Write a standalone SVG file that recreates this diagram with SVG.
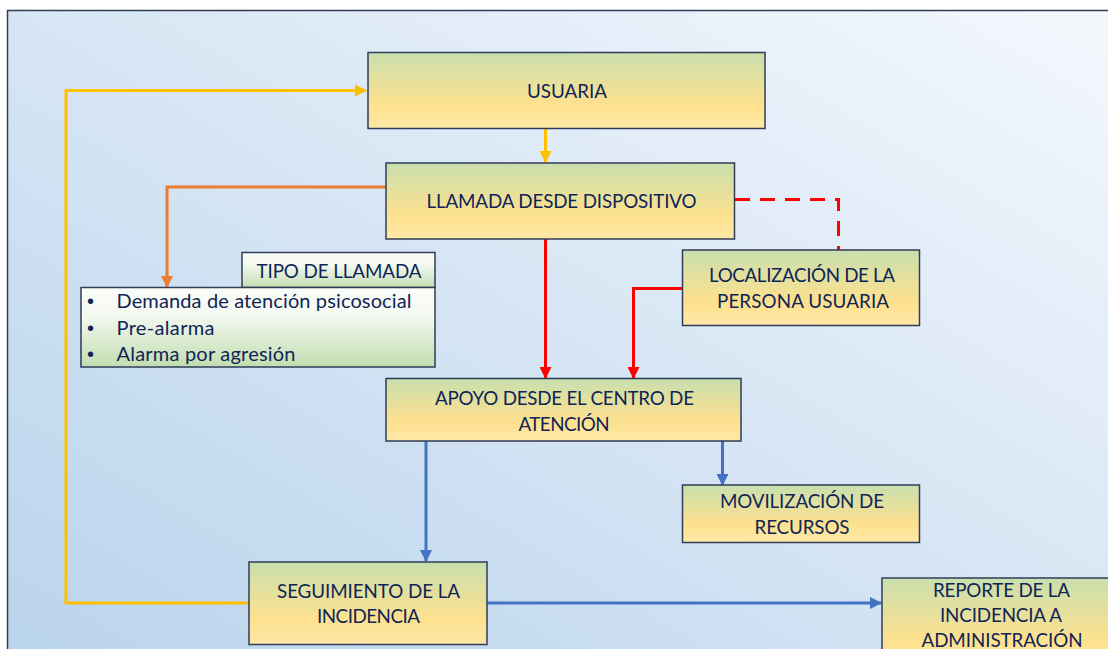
<svg xmlns="http://www.w3.org/2000/svg" width="1108" height="649" viewBox="0 0 1108 649">
<defs>
<linearGradient id="bg" x1="1" y1="0" x2="0" y2="1">
<stop offset="0" stop-color="#f4f8fd"/>
<stop offset="1" stop-color="#b9d3ec"/>
</linearGradient>
<linearGradient id="node" x1="0" y1="0" x2="0" y2="1">
<stop offset="0" stop-color="#c9dfae"/>
<stop offset="0.7" stop-color="#fee18e"/>
<stop offset="1" stop-color="#fee8a8"/>
</linearGradient>
<linearGradient id="green" x1="0" y1="0" x2="0" y2="1">
<stop offset="0" stop-color="#fbfdf9"/>
<stop offset="0.35" stop-color="#f4f9f0"/>
<stop offset="1" stop-color="#c2ddb0"/>
</linearGradient>
<marker id="aY" markerUnits="userSpaceOnUse" markerWidth="12" markerHeight="12" refX="11" refY="6" orient="auto"><path d="M0,0 L12,6 L0,12 z" fill="#ffc000"/></marker>
<marker id="aO" markerUnits="userSpaceOnUse" markerWidth="12" markerHeight="12" refX="11" refY="6" orient="auto"><path d="M0,0 L12,6 L0,12 z" fill="#ed7d31"/></marker>
<marker id="aR" markerUnits="userSpaceOnUse" markerWidth="12" markerHeight="12" refX="11" refY="6" orient="auto"><path d="M0,0 L12,6 L0,12 z" fill="#ff0000"/></marker>
<marker id="aB" markerUnits="userSpaceOnUse" markerWidth="12" markerHeight="12" refX="11" refY="6" orient="auto"><path d="M0,0 L12,6 L0,12 z" fill="#4472c4"/></marker>
</defs>
<style>
.box{fill:url(#node);stroke:#2f3d58;stroke-width:1.5}
.gbox{fill:url(#green);stroke:#2f3d58;stroke-width:1.5}
.t{font-family:Lato,"Open Sans","Liberation Sans",sans-serif;font-size:18.8px;fill:#0f2557;text-anchor:middle}
.tl{font-family:Lato,"Open Sans","Liberation Sans",sans-serif;font-size:20px;fill:#0f2557}
.b{font-family:"Liberation Sans",sans-serif;font-size:20px;fill:#0f2557}
.c{fill:none;stroke-width:3}
</style>
<rect x="0" y="0" width="1108" height="649" fill="#ffffff"/>
<rect x="7.5" y="10.5" width="1110" height="650" fill="url(#bg)" stroke="#2f3d58" stroke-width="1.5"/>

<g id="connectors">
<path class="c" stroke="#ffc000" d="M249,603 H66 V90.5 H366" marker-end="url(#aY)"/>
<path class="c" stroke="#ffc000" d="M545.5,128 V162" marker-end="url(#aY)"/>
<path class="c" stroke="#ed7d31" d="M386,187 H167 V287" marker-end="url(#aO)"/>
<path class="c" stroke="#ff0000" stroke-dasharray="15,10" d="M735,199.5 H838.5 V250"/>
<path class="c" stroke="#ff0000" d="M545.5,239 V378" marker-end="url(#aR)"/>
<path class="c" stroke="#ff0000" d="M682,288.5 H633.5 V378" marker-end="url(#aR)"/>
<path class="c" stroke="#4472c4" d="M426,441 V561" marker-end="url(#aB)"/>
<path class="c" stroke="#4472c4" d="M722.5,441 V485" marker-end="url(#aB)"/>
<path class="c" stroke="#4472c4" d="M487,603 H881" marker-end="url(#aB)"/>
</g>

<g id="usuaria">
<rect class="box" x="368" y="52.5" width="397" height="76"/>
<text class="t" x="567" y="98" textLength="80">USUARIA</text>
</g>
<g id="llamada">
<rect class="box" x="386" y="163" width="348.5" height="76"/>
<text class="t" x="561.5" y="208" textLength="270">LLAMADA DESDE DISPOSITIVO</text>
</g>
<g id="tipo">
<rect class="gbox" x="242" y="252.5" width="193" height="35"/>
<text class="t" x="339" y="277.5" textLength="165">TIPO DE LLAMADA</text>
</g>
<g id="lista">
<rect class="gbox" x="81" y="287.5" width="354" height="79.5"/>
<text class="b" x="87" y="308">•</text>
<text class="tl" x="116.5" y="308" textLength="295">Demanda de atención psicosocial</text>
<text class="b" x="87" y="334.5">•</text>
<text class="tl" x="116.5" y="334.5" textLength="98">Pre-alarma</text>
<text class="b" x="87" y="360.5">•</text>
<text class="tl" x="116.5" y="360.5" textLength="179">Alarma por agresión</text>
</g>
<g id="localizacion">
<rect class="box" x="682.5" y="250" width="237" height="75.5"/>
<text class="t" x="802" y="281.5" textLength="186">LOCALIZACIÓN DE LA</text>
<text class="t" x="803" y="307.5" textLength="172">PERSONA USUARIA</text>
</g>
<g id="apoyo">
<rect class="box" x="386" y="378.5" width="355" height="62.5"/>
<text class="t" x="564.5" y="405" textLength="259">APOYO DESDE EL CENTRO DE</text>
<text class="t" x="564" y="430.5" textLength="91">ATENCIÓN</text>
</g>
<g id="movilizacion">
<rect class="box" x="682.5" y="485" width="237" height="57.5"/>
<text class="t" x="802" y="508" textLength="164">MOVILIZACIÓN DE</text>
<text class="t" x="802" y="533.5" textLength="95">RECURSOS</text>
</g>
<g id="seguimiento">
<rect class="box" x="249" y="562" width="238" height="82.5"/>
<text class="t" x="368.5" y="598" textLength="183">SEGUIMIENTO DE LA</text>
<text class="t" x="368.5" y="623" textLength="103">INCIDENCIA</text>
</g>
<g id="reporte">
<rect class="box" x="882" y="578" width="240" height="90"/>
<text class="t" x="1001.5" y="596.5" textLength="137">REPORTE DE LA</text>
<text class="t" x="1001" y="621.5" textLength="122">INCIDENCIA A</text>
<text class="t" x="1002" y="647" textLength="161">ADMINISTRACIÓN</text>
</g>
</svg>
